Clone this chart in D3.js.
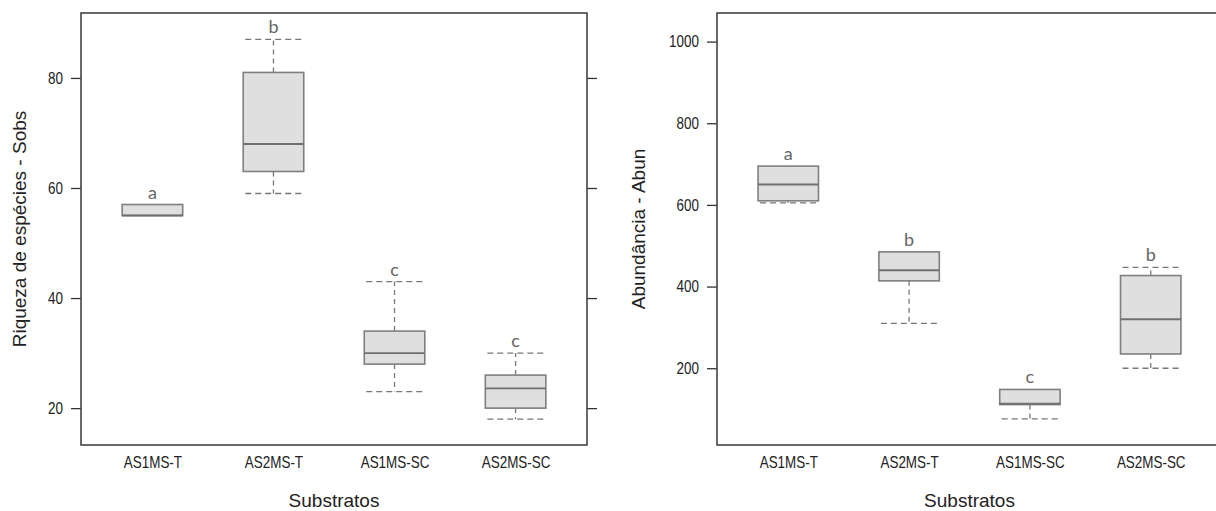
<!DOCTYPE html>
<html>
<head>
<meta charset="utf-8">
<script src="https://cdn.jsdelivr.net/npm/d3@7"></script>
<style>
  body { margin: 0; background: #fff; }
  svg text { fill: #222; }
  .tick text { font-family: "Liberation Sans", Arial, sans-serif; font-size: 16px; }
  .title { font-family: "Liberation Sans", Arial, sans-serif; font-size: 19px; }
  .letter { font-family: Lato, "Open Sans", sans-serif; font-size: 18px; fill: #666 !important; }
</style>
</head>
<body>
<svg id="chart" width="1216" height="511"></svg>
<script>
const categories = ["AS1MS-T", "AS2MS-T", "AS1MS-SC", "AS2MS-SC"];

// riqueza (Sobs): [min, q1, median, q3, max]
const sobsStats = [
  [55, 55, 55, 57, 57],
  [59, 63, 68, 81, 87],
  [23, 28, 30, 34, 43],
  [18, 20, 23.6, 26, 30]
];
const sobsLetters = ["a", "b", "c", "c"];
const sobsTicks = [20, 40, 60, 80];

// abundancia (Abun): [min, q1, median, q3, max]
const abunStats = [
  [605, 610, 650, 695, 695],
  [310, 414, 440, 485, 485],
  [76, 111, 113, 148, 148],
  [200, 235, 320, 427, 447]
];
const abunLetters = ["a", "b", "c", "b"];
const abunTicks = [200, 400, 600, 800, 1000];

const svg = d3.select("#chart");
const squeeze = 0.84; // narrow look of the tick labels

const drawPanel = (opt) => {
  const { left, right, top, bottom, domain, stats, letters, ticks, ylabel, rightTicks } = opt;
  const g = svg.append("g");

  const x = d3.scaleLinear().domain([0.41, 4.59]).range([left, right]);
  const y = d3.scaleLinear().domain(domain).range([bottom, top]);
  const step = x(2) - x(1);
  const bw = step * 0.5;

  const yAxis = g.append("g")
    .attr("transform", `translate(${left},0)`)
    .call(d3.axisLeft(y).tickValues(ticks).tickSize(10).tickPadding(8).tickFormat(d3.format("d")));
  yAxis.select(".domain").remove();
  yAxis.selectAll("line").attr("stroke", "#333").attr("stroke-width", 1.3);
  yAxis.selectAll("text")
    .attr("x", -18 / squeeze)
    .attr("transform", `scale(${squeeze},1)`);

  if (rightTicks) {
    const rAxis = g.append("g")
      .attr("transform", `translate(${right},0)`)
      .call(d3.axisRight(y).tickValues(ticks).tickSize(10).tickFormat(""));
    rAxis.select(".domain").remove();
    rAxis.selectAll("line").attr("stroke", "#333").attr("stroke-width", 1.3);
  }

  const xAxis = g.append("g")
    .attr("transform", `translate(0,${bottom})`)
    .call(d3.axisBottom(x).tickValues([1, 2, 3, 4]).tickSize(0).tickPadding(12)
      .tickFormat((d) => categories[d - 1]));
  xAxis.select(".domain").remove();
  xAxis.selectAll("text").attr("transform", `scale(${squeeze},1)`);

  const box = g.selectAll(".box")
    .data(stats)
    .join("g")
    .attr("class", "box");

  // whiskers
  box.append("line")
    .attr("x1", (d, i) => x(i + 1)).attr("x2", (d, i) => x(i + 1))
    .attr("y1", (d) => y(d[3])).attr("y2", (d) => y(d[4]))
    .attr("stroke", "#777").attr("stroke-width", 1.3).attr("stroke-dasharray", "5,4");
  box.append("line")
    .attr("x1", (d, i) => x(i + 1)).attr("x2", (d, i) => x(i + 1))
    .attr("y1", (d) => y(d[1])).attr("y2", (d) => y(d[0]))
    .attr("stroke", "#777").attr("stroke-width", 1.3).attr("stroke-dasharray", "5,4");

  // caps
  [0, 4].forEach((k) => {
    box.append("line")
      .attr("x1", (d, i) => x(i + 1) - bw / 2 + 2).attr("x2", (d, i) => x(i + 1) + bw / 2)
      .attr("y1", (d) => y(d[k])).attr("y2", (d) => y(d[k]))
      .attr("stroke", "#777").attr("stroke-width", 1.3).attr("stroke-dasharray", "6,4")
      .attr("display", (d) => (d[k] === d[k === 0 ? 1 : 3] ? "none" : null));
  });

  box.append("rect")
    .attr("x", (d, i) => x(i + 1) - bw / 2)
    .attr("width", bw)
    .attr("y", (d) => y(d[3]))
    .attr("height", (d) => y(d[1]) - y(d[3]))
    .attr("fill", "#dfdfdf").attr("stroke", "#7f7f7f").attr("stroke-width", 1.6);

  box.append("line")
    .attr("x1", (d, i) => x(i + 1) - bw / 2).attr("x2", (d, i) => x(i + 1) + bw / 2)
    .attr("y1", (d) => y(d[2])).attr("y2", (d) => y(d[2]))
    .attr("stroke", "#707070").attr("stroke-width", 1.8);

  box.append("text")
    .attr("class", "letter")
    .attr("x", (d, i) => x(i + 1))
    .attr("y", (d) => y(d[4]) - 6)
    .attr("text-anchor", "middle")
    .text((d, i) => letters[i]);

  g.append("rect")
    .attr("x", left).attr("y", top)
    .attr("width", right - left).attr("height", bottom - top)
    .attr("fill", "none").attr("stroke", "#444").attr("stroke-width", 1.6);

  g.append("text")
    .attr("class", "title")
    .attr("x", (left + right) / 2).attr("y", bottom + 62)
    .attr("text-anchor", "middle")
    .text("Substratos");

  g.append("text")
    .attr("class", "title")
    .attr("transform", `translate(${opt.ylabelX},${opt.ylabelY}) rotate(-90)`)
    .attr("text-anchor", "middle")
    .text(ylabel);
};

drawPanel({
  left: 81, right: 587, top: 13, bottom: 445,
  domain: [13.3, 91.8], stats: sobsStats, letters: sobsLetters, ticks: sobsTicks,
  ylabel: "Riqueza de espécies - Sobs", ylabelX: 26, ylabelY: 229, rightTicks: true
});

drawPanel({
  left: 717, right: 1222, top: 13, bottom: 445,
  domain: [12, 1070], stats: abunStats, letters: abunLetters, ticks: abunTicks,
  ylabel: "Abundância - Abun", ylabelX: 645, ylabelY: 229, rightTicks: true
});
</script>
</body>
</html>
